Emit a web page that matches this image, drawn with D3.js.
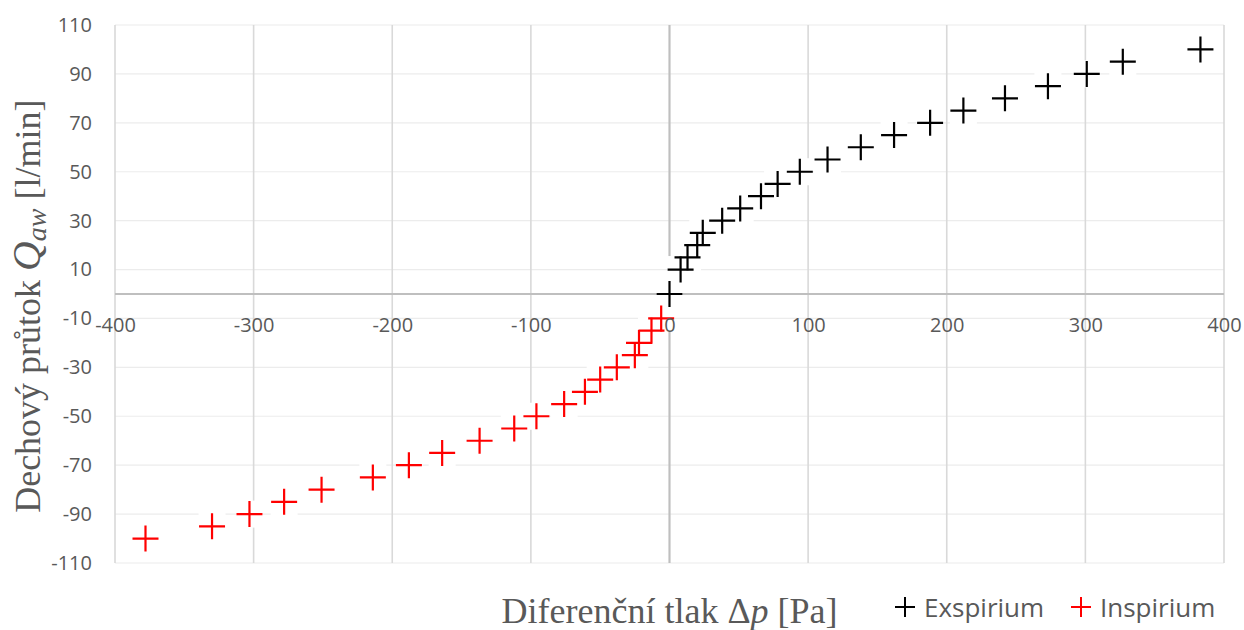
<!DOCTYPE html>
<html>
<head>
<meta charset="utf-8">
<script src="https://cdn.jsdelivr.net/npm/d3@7"></script>
<style>
    body { margin: 0; background: #fff; }
    svg { display: block; }
    .tick-label { font-family: "Open Sans", sans-serif; font-size: 20px; fill: #595959; }
    .axis-title { font-family: "Liberation Serif", "Times New Roman", serif; font-size: 36px; fill: #595959; }
    .legend-label { font-family: "Open Sans", sans-serif; font-size: 26px; fill: #595959; }
</style>
</head>
<body>
<div id="chart"></div>
<script>
// Exspirium (cerna)
const expPressure = [0, 8, 13, 20, 24, 38, 51, 66, 78, 94, 114, 138, 162, 188, 212, 242, 273, 301, 327, 383];
const expFlow     = [0, 10, 15, 20, 25, 30, 35, 40, 45, 50, 55, 60, 65, 70, 75, 80, 85, 90, 95, 100];

// Inspirium (cervena)
const insPressure = [-378, -330, -303, -278, -251, -214, -188, -164, -137, -112, -96, -76, -61, -50, -38, -25, -22, -13, -6];
const insFlow     = [-100, -95, -90, -85, -80, -75, -70, -65, -60, -55, -50, -45, -40, -35, -30, -25, -20, -15, -10];

const xTicks = [-400, -300, -200, -100, 0, 100, 200, 300, 400];
const yTicks = [-110, -90, -70, -50, -30, -10, 10, 30, 50, 70, 90, 110];

const seriesNames = ['Exspirium', 'Inspirium'];
const seriesColors = ['#000000', '#ff0000'];

class Scatter {
    constructor(_config) {
        this.config = {
            parentElement: _config.parentElement,
            containerWidth: 1244,
            containerHeight: 630,
            margin: { top: 25, right: 20, bottom: 67, left: 115 }
        };
        this.initVis();
    }

    initVis() {
        let vis = this;
        vis.width = vis.config.containerWidth - vis.config.margin.left - vis.config.margin.right;
        vis.height = vis.config.containerHeight - vis.config.margin.top - vis.config.margin.bottom;

        vis.xScale = d3.scaleLinear().domain([-400, 400]).range([0, vis.width]);
        vis.yScale = d3.scaleLinear().domain([-110, 110]).range([vis.height, 0]);

        vis.svg = d3.select(vis.config.parentElement).append('svg')
            .attr('width', vis.config.containerWidth)
            .attr('height', vis.config.containerHeight);

        vis.chart = vis.svg.append('g')
            .attr('transform', `translate(${vis.config.margin.left},${vis.config.margin.top})`);

        // mrizka
        vis.chart.append('g').selectAll('line')
            .data(yTicks).join('line')
            .attr('x1', 0).attr('x2', vis.width)
            .attr('y1', d => vis.yScale(d)).attr('y2', d => vis.yScale(d))
            .attr('stroke', '#ececec').attr('stroke-width', 1.2);

        vis.chart.append('g').selectAll('line')
            .data(xTicks).join('line')
            .attr('x1', d => vis.xScale(d)).attr('x2', d => vis.xScale(d))
            .attr('y1', 0).attr('y2', vis.height)
            .attr('stroke', '#d9d9d9').attr('stroke-width', 1.6);

        // osy v nule
        vis.chart.append('line')
            .attr('x1', 0).attr('x2', vis.width)
            .attr('y1', vis.yScale(0)).attr('y2', vis.yScale(0))
            .attr('stroke', '#bfbfbf').attr('stroke-width', 2);
        vis.chart.append('line')
            .attr('x1', vis.xScale(0)).attr('x2', vis.xScale(0))
            .attr('y1', 0).attr('y2', vis.height)
            .attr('stroke', '#bfbfbf').attr('stroke-width', 2);

        vis.markerG = vis.chart.append('g');
        vis.labelG = vis.chart.append('g');
    }

    renderVis() {
        let vis = this;
        const series = [
            expPressure.map((p, i) => ({ x: p, y: expFlow[i], s: 0 })),
            insPressure.map((p, i) => ({ x: p, y: insFlow[i], s: 1 }))
        ];
        const all = series[0].concat(series[1]);
        const size = 13;

        // bile pozadi za znackami
        vis.markerG.append('g').selectAll('rect')
            .data(all).join('rect')
            .attr('x', d => vis.xScale(d.x) - 13.5)
            .attr('y', d => vis.yScale(d.y) - 13.5)
            .attr('width', 27).attr('height', 27)
            .attr('fill', '#fff');

        vis.markerG.append('g').selectAll('path')
            .data(all).join('path')
            .attr('d', d => {
                const cx = vis.xScale(d.x), cy = vis.yScale(d.y);
                return `M${cx - size},${cy}H${cx + size}M${cx},${cy - size}V${cy + size}`;
            })
            .attr('stroke', d => seriesColors[d.s])
            .attr('stroke-width', 2.2)
            .attr('fill', 'none');

        // popisky os (obycejny spojovnik misto minus)
        const xAxis = d3.axisBottom(vis.xScale).tickValues(xTicks).tickSize(0).tickPadding(24).tickFormat(d => String(d));
        const yAxis = d3.axisLeft(vis.yScale).tickValues(yTicks).tickSize(0).tickPadding(23).tickFormat(d => String(d));

        const xg = vis.labelG.append('g')
            .attr('transform', `translate(0,${vis.yScale(0)})`)
            .call(xAxis);
        const yg = vis.labelG.append('g').call(yAxis);
        [xg, yg].forEach(g => {
            g.select('.domain').remove();
            g.attr('font-family', null).attr('font-size', null);
            g.selectAll('text').attr('class', 'tick-label').attr('fill', null);
        });

        // nazvy os
        const yTitle = vis.svg.append('text')
            .attr('class', 'axis-title')
            .attr('font-size', '38px')
            .attr('transform', `translate(40,${vis.config.margin.top + vis.yScale(-5)}) rotate(-90)`)
            .attr('text-anchor', 'middle');
        yTitle.append('tspan').text('Dechový průtok ');
        yTitle.append('tspan').attr('font-style', 'italic').attr('font-size', '41px').text('Q');
        yTitle.append('tspan').attr('font-style', 'italic').attr('font-size', '28px').attr('dy', 6).text('aw');
        yTitle.append('tspan').attr('dy', -6).text(' [l/min]');

        const xTitle = vis.svg.append('text')
            .attr('class', 'axis-title')
            .attr('x', vis.config.margin.left + vis.xScale(0))
            .attr('y', 623)
            .attr('text-anchor', 'middle');
        xTitle.append('tspan').text('Diferenční tlak Δ');
        xTitle.append('tspan').attr('font-style', 'italic').text('p');
        xTitle.append('tspan').text(' [Pa]');

        // legenda
        const legendX = [905, 1081];
        const legend = vis.svg.append('g').selectAll('g')
            .data(seriesNames).join('g')
            .attr('transform', (d, i) => `translate(${legendX[i]},607)`);
        legend.append('path')
            .attr('d', 'M-10,0H10M0,-10V10')
            .attr('stroke', (d, i) => seriesColors[i])
            .attr('stroke-width', 2);
        legend.append('text')
            .attr('class', 'legend-label')
            .attr('x', 19)
            .attr('y', 10)
            .text(d => d);
    }
}

const chart = new Scatter({ parentElement: '#chart' });
chart.renderVis();
</script>
</body>
</html>
